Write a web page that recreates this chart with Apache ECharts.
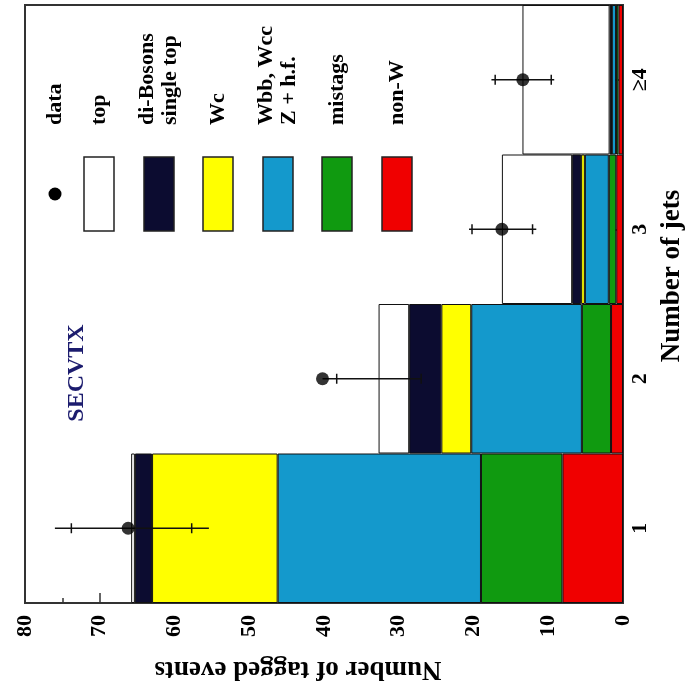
<!DOCTYPE html>
<html>
<head>
<meta charset="utf-8">
<script src="https://cdn.jsdelivr.net/npm/echarts@6/dist/echarts.min.js"></script>
<style>
html,body{margin:0;padding:0;background:#fff;}
#c{width:696px;height:698px;}
</style>
</head>
<body>
<div id="c"></div>
<script>
// ---- data ----
const categories = ['1', '2', '3', '≥4'];
const nonW     = [8.1, 1.6, 0.9, 0.6];
const mistags  = [10.9, 3.9, 1.0, 0.33];
const hf       = [27.2, 14.8, 3.2, 0.57];
const wc       = [16.8, 4.0, 0.5, 0.05];
const diboson  = [2.3, 4.3, 1.2, 0.24];
const topQ     = [0.5, 4.1, 9.4, 11.66];
const dataVals = [66.2, 40.2, 16.2, 13.4];
const errLineLo = [55.4, 27.0, 11.6, 9.2];
const errLineHi = [76.0, 40.2, 20.6, 17.6];
const serifA    = [57.7, 27.0, 12.1, 9.6];
const serifB    = [73.8, 38.3, 20.2, 17.1];
const valueMin = 0, valueMax = 80, valueStep = 10;

const legendLabels = ['data', 'top', 'di-Bosons\nsingle top', 'Wc', 'Wbb, Wcc\nZ + h.f.', 'mistags', 'non-W'];
const legendColors = [null, '#ffffff', '#0c0c30', '#ffff00', '#1499cc', '#109a10', '#f00000'];

const FONT = '"Liberation Serif", "DejaVu Serif", serif';

const stackDefs = [
  ['non-W', nonW, legendColors[6]],
  ['mistags', mistags, legendColors[5]],
  ['Wbb, Wcc Z + h.f.', hf, legendColors[4]],
  ['Wc', wc, legendColors[3]],
  ['di-Bosons single top', diboson, legendColors[2]],
  ['top', topQ, legendColors[1]]
];

const chart = echarts.init(document.getElementById('c'), null, {renderer: 'canvas'});

const series = stackDefs.map(([name, vals, color]) => ({
  name: name,
  type: 'bar',
  stack: 'mc',
  barWidth: '100%',
  barCategoryGap: '0%',
  data: vals,
  itemStyle: {color: color, borderColor: '#111', borderWidth: 1},
  silent: true
}));

series.push({
  name: 'errors',
  type: 'custom',
  data: categories.map((c, i) => [i, errLineLo[i], errLineHi[i], serifA[i], serifB[i]]),
  encode: {y: 0, x: [1, 2, 3, 4]},
  renderItem: function (params, api) {
    const ci = api.value(0);
    const p1 = api.coord([api.value(1), ci]);
    const p2 = api.coord([api.value(2), ci]);
    const s1 = api.coord([api.value(3), ci]);
    const s2 = api.coord([api.value(4), ci]);
    const st = {stroke: '#111', lineWidth: 1.5};
    const h = 5;
    return {
      type: 'group',
      children: [
        {type: 'line', shape: {x1: p1[0], y1: p1[1], x2: p2[0], y2: p2[1]}, style: st},
        {type: 'line', shape: {x1: s1[0], y1: s1[1] - h, x2: s1[0], y2: s1[1] + h}, style: st},
        {type: 'line', shape: {x1: s2[0], y1: s2[1] - h, x2: s2[0], y2: s2[1] + h}, style: st}
      ]
    };
  },
  z: 5
});

series.push({
  name: 'data',
  type: 'scatter',
  data: dataVals.map((v, i) => [v, i]),
  symbol: 'circle',
  symbolSize: 13,
  itemStyle: {color: '#000'},
  z: 6
});

// legend drawn as graphics (rotated layout)
const graphics = [];
const legX = [55, 99, 159, 218, 278, 337, 397];
legendLabels.forEach((lab, i) => {
  const cx = legX[i];
  if (i === 0) {
    graphics.push({type: 'circle', shape: {cx: cx, cy: 194, r: 6.5}, style: {fill: '#000'}});
  } else {
    graphics.push({type: 'rect', shape: {x: cx - 15, y: 157, width: 30, height: 74},
      style: {fill: legendColors[i], stroke: '#222', lineWidth: 1.5}});
  }
  graphics.push({
    type: 'text', x: cx, y: 125, rotation: Math.PI / 2,
    style: {text: lab, fill: '#000', font: 'bold 22px ' + FONT, align: 'left', verticalAlign: 'middle', lineHeight: 23}
  });
});
graphics.push({
  type: 'text', x: 77, y: 373, rotation: Math.PI / 2,
  style: {text: 'SECVTX', fill: '#1c1c6e', font: 'bold 24px ' + FONT, align: 'center', verticalAlign: 'middle'}
});
graphics.push({
  type: 'text', x: 298, y: 669, rotation: Math.PI,
  style: {text: 'Number of tagged events', fill: '#000', font: 'bold 27px ' + FONT, align: 'center', verticalAlign: 'middle'}
});
graphics.push({
  type: 'text', x: 672, y: 276, rotation: Math.PI / 2,
  style: {text: 'Number of jets', fill: '#000', font: 'bold 27px ' + FONT, align: 'center', verticalAlign: 'middle'}
});

chart.setOption({
  animation: false,
  backgroundColor: '#fff',
  grid: {left: 25, top: 5, width: 598, height: 598, show: true, borderColor: '#333', borderWidth: 2, backgroundColor: 'transparent'},
  xAxis: {
    type: 'value', min: valueMin, max: valueMax, interval: valueStep, inverse: true, position: 'bottom',
    axisLine: {show: true, lineStyle: {color: '#333', width: 2}},
    axisTick: {show: true, inside: true, length: 10, lineStyle: {color: '#333', width: 1.5}},
    minorTick: {show: true, splitNumber: 2, length: 5, lineStyle: {color: '#333', width: 1.5}},
    splitLine: {show: false},
    axisLabel: {rotate: 90, margin: 12, color: '#000', fontSize: 22, fontWeight: 'bold', fontFamily: FONT}
  },
  yAxis: {
    type: 'category', data: categories, position: 'right',
    axisLine: {show: true, lineStyle: {color: '#333', width: 2}},
    axisTick: {show: true, inside: true, length: 10, alignWithLabel: true, lineStyle: {color: '#333', width: 1.5}},
    splitLine: {show: false},
    axisLabel: {rotate: 90, margin: 6, color: '#000', fontSize: 22, fontWeight: 'bold', fontFamily: FONT}
  },
  graphic: graphics,
  series: series
});
</script>
</body>
</html>
